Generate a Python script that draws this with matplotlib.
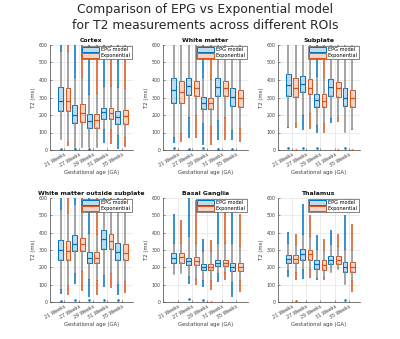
import numpy as np
import matplotlib
matplotlib.use("Agg")
import matplotlib.pyplot as plt
from matplotlib.patches import Patch
from matplotlib.colors import to_rgba

# ROIs (panel order) and gestational ages
rois = ["Cortex", "White matter", "Subplate",
        "White matter outside subplate", "Basal Ganglia", "Thalamus"]
weeks = ["21 Weeks", "27 Weeks", "29 Weeks", "31 Weeks", "35 Weeks"]
models = ["EPG model", "Exponential"]

# every row: 21w EPG, 21w Exp, 27w EPG, 27w Exp, ... 35w EPG, 35w Exp   (T2 in ms)
q1 = [[223, 223, 156, 160, 125, 125, 179, 179, 150, 150],
      [270, 270, 317, 310, 234, 234, 308, 308, 253, 247],
      [310, 304, 329, 319, 243, 243, 310, 304, 253, 247],
      [240, 240, 292, 292, 225, 225, 308, 308, 244, 244],
      [225, 225, 212, 212, 183, 183, 206, 206, 179, 179],
      [225, 225, 244, 244, 192, 187, 221, 217, 173, 173]]
med = [[279, 279, 198, 211, 163, 169, 217, 213, 188, 192],
       [342, 333, 365, 352, 266, 266, 361, 352, 304, 295],
       [371, 356, 375, 357, 285, 281, 361, 352, 298, 298],
       [298, 292, 337, 335, 256, 256, 362, 352, 288, 285],
       [256, 260, 235, 237, 202, 202, 225, 227, 202, 202],
       [250, 250, 279, 275, 217, 215, 244, 244, 202, 202]]
q3 = [[361, 352, 260, 265, 204, 208, 242, 242, 223, 227],
      [409, 393, 409, 393, 304, 300, 409, 393, 352, 342],
      [432, 413, 424, 405, 318, 318, 403, 386, 352, 342],
      [360, 352, 385, 369, 288, 288, 413, 394, 340, 333],
      [285, 285, 256, 260, 221, 221, 240, 240, 225, 225],
      [273, 273, 308, 298, 240, 240, 263, 263, 231, 231]]
whis_lo = [[63, 44, 12, 18, 15, 15, 120, 121, 83, 77],
           [76, 95, 190, 200, 152, 137, 171, 190, 114, 124],
           [133, 152, 200, 209, 143, 152, 181, 190, 105, 120],
           [77, 90, 167, 179, 135, 129, 154, 169, 106, 119],
           [163, 167, 148, 135, 125, 125, 167, 173, 115, 125],
           [183, 173, 192, 192, 140, 144, 173, 192, 106, 125]]
whis_hi = [[560, 560, 410, 410, 313, 320, 361, 361, 355, 350],
           [620, 620, 620, 620, 412, 400, 620, 620, 620, 520],
           [620, 620, 620, 620, 420, 410, 620, 620, 620, 620],
           [530, 510, 560, 520, 395, 385, 560, 560, 550, 540],
           [337, 337, 375, 337, 288, 288, 337, 337, 337, 317],
           [337, 327, 385, 375, 298, 298, 327, 317, 298, 298]]
# highest outlier (upper outliers run from whis_hi up to this)
out_hi = [[620, 620, 620, 620, 620, 620, 620, 620, 620, 620],
          [620, 620, 620, 620, 620, 620, 620, 620, 620, 620],
          [620, 620, 620, 620, 620, 620, 620, 620, 620, 620],
          [620, 620, 620, 620, 620, 620, 620, 620, 620, 620],
          [510, 471, 620, 590, 365, 356, 519, 519, 529, 510],
          [404, 394, 567, 500, 385, 365, 413, 394, 500, 452]]
# lowest outlier (lower outliers run from this up to whis_lo), None = no outliers
out_lo = [[None, 25, None, None, None, None, 40, 35, 5, 15],
          [38, 44, 67, 67, 28, 28, 57, 57, 57, 44],
          [124, 127, 114, 120, 95, 95, 152, 162, None, 115],
          [48, 38, 106, 63, 29, 38, 87, 83, 38, 52],
          [None, None, 102, 96, 87, 71, 115, 125, 29, 58],
          [144, 125, 135, 140, 125, 125, None, None, None, 58]]
# isolated low outliers near 0 ms, None = none
out_floor = [[6, None, 4, None, 5, None, None, None, None, None],
             [10, None, 8, None, 10, None, 8, None, 6, None],
             [12, 2, 12, None, 12, None, None, 2, 12, 2],
             [8, None, 10, None, 12, None, 10, None, 10, None],
             [None, None, 15, None, 12, 2, None, None, None, None],
             [None, 5, None, None, None, None, None, None, 14, None]]

colors = ["#0072BD", "#D95319"]

W, H = 400, 339
fig = plt.figure(figsize=(W / 100, H / 100), dpi=100)
fig.text(0.512, 0.99, "Comparison of EPG vs Exponential model\nfor T2 measurements across different ROIs",
         ha="center", va="top", fontsize=8.9, color="#262626", linespacing=1.22)

# axes boxes in pixels (left, top, right, bottom)
cols = [(50, 133), (163, 248), (278, 360)]
rows = [(45, 150), (198, 302)]

for k, roi in enumerate(rois):
    l, r = cols[k % 3]
    t, b = rows[k // 3]
    ax = fig.add_axes([l / W, (H - b) / H, (r - l) / W, (b - t) / H])
    ax.set_axisbelow(True)
    ax.grid(True, color="#e2e2e2", lw=0.45)

    for j in range(10):
        g, m = divmod(j, 2)
        x = g + 1 + (-0.26 if m == 0 else 0.26)
        c = colors[m]
        st = dict(med=med[k][j], q1=q1[k][j], q3=q3[k][j],
                  whislo=whis_lo[k][j], whishi=whis_hi[k][j], fliers=[])
        ax.bxp([st], positions=[x], widths=0.34, patch_artist=True, showcaps=False,
               boxprops=dict(facecolor=to_rgba(c, 0.25), edgecolor=c, lw=0.7),
               whiskerprops=dict(color="#8a8a8a", lw=1.1),
               medianprops=dict(color=c, lw=0.9))
        if whis_hi[k][j] < 600:
            ax.vlines(x, whis_hi[k][j], out_hi[k][j], color=c, lw=1.1, zorder=3)
        if out_lo[k][j] is not None:
            ax.vlines(x, out_lo[k][j], whis_lo[k][j], color=c, lw=1.1, zorder=3)
        if out_floor[k][j] is not None:
            ax.plot([x], [out_floor[k][j]], ".", color=c, ms=1.6, zorder=3)

    ax.set_xlim(0.0, 5.8)
    ax.set_ylim(0, 600)
    ax.set_yticks(np.arange(0, 601, 100))
    ax.set_xticks(np.arange(1, 6))
    ax.set_xticklabels(weeks, rotation=30, ha="right", rotation_mode="anchor")
    ax.tick_params(labelsize=3.4, length=1.2, width=0.4, direction="in", pad=1.5,
                   colors="#404040")
    for s in ["top", "right"]:
        ax.spines[s].set_visible(False)
    for s in ["left", "bottom"]:
        ax.spines[s].set_color("#404040")
        ax.spines[s].set_linewidth(0.5)
    ax.set_title(roi, fontsize=4.4, fontweight="bold", pad=2, color="#111111")
    ax.set_ylabel("T2 (ms)", fontsize=3.8, labelpad=2, color="#404040")
    ax.set_xlabel("Gestational age (GA)", fontsize=3.8, labelpad=1.5, color="#404040")

    handles = [Patch(facecolor=to_rgba(colors[i], 0.25), edgecolor=colors[i], lw=0.7)
               for i in range(2)]
    leg = ax.legend(handles, models, loc="upper right", fontsize=3.6, handlelength=3.4,
                    handleheight=1.0, borderpad=0.25, labelspacing=0.15, handletextpad=0.3,
                    borderaxespad=0.2, fancybox=False, framealpha=1, edgecolor="#555555")
    leg.get_frame().set_linewidth(0.5)
    leg.set_zorder(5)

fig.savefig("out.png", dpi=100)
